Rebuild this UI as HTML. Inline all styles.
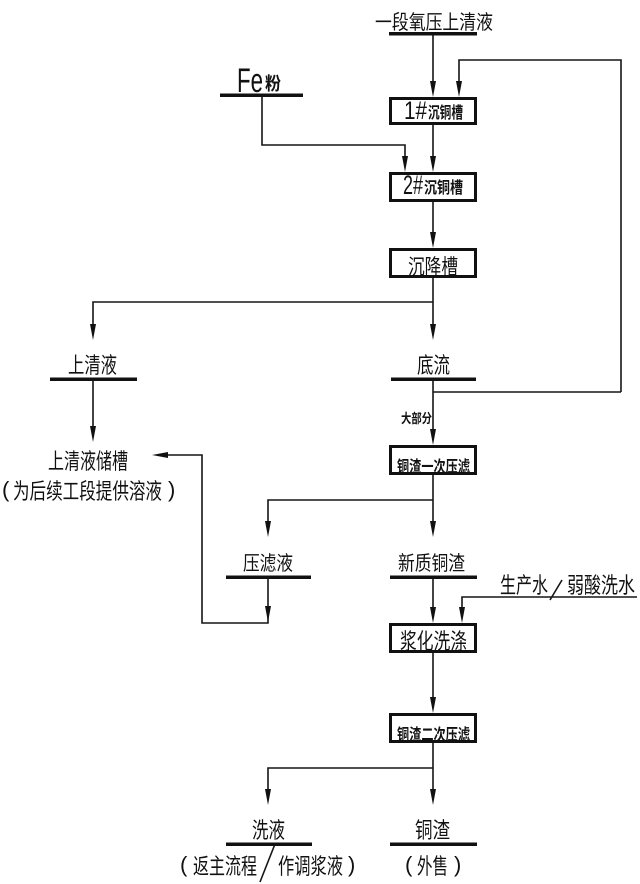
<!DOCTYPE html>
<html><head><meta charset="utf-8"><style>
html,body{margin:0;padding:0;background:#fff;}
svg{display:block;}
text{font-family:"Liberation Sans","Noto Sans CJK SC",sans-serif;fill:#111;}
.c{font-family:"Noto Sans CJK SC","WenQuanYi Zen Hei",sans-serif;}
.b{font-weight:bold;}
</style></head><body>
<svg width="640" height="884" viewBox="0 0 640 884" xmlns="http://www.w3.org/2000/svg">
<g fill="none" stroke="#151515" stroke-width="1.6">
<path d="M433 34V90"/>
<path d="M621 392V60H459V90"/>
<path d="M262 95V145H405V165"/>
<path d="M433 125V165"/>
<path d="M433 202V241"/>
<path d="M433 278V333"/>
<path d="M433 302H93V333"/>
<path d="M93 379V435"/>
<path d="M433 379V438"/>
<path d="M433 392H621"/>
<path d="M433 475V530"/>
<path d="M433 500H268V530"/>
<path d="M268 577V623H202V455H160"/>
<path d="M433 577V616"/>
<path d="M637 597H462V616"/>
<path d="M433 653V706"/>
<path d="M433 743V798"/>
<path d="M433 768H268V798"/>
<path d="M260 882L275 844"/>
<path d="M550 600L562 580"/>
</g>
<g fill="#111">
<polygon points="433,97 430,81 436,81"/>
<polygon points="459,97 456,81 462,81"/>
<polygon points="405,172 402,156 408,156"/>
<polygon points="433,172 430,156 436,156"/>
<polygon points="433,248 430,232 436,232"/>
<polygon points="433,340 430,324 436,324"/>
<polygon points="93,340 90,324 96,324"/>
<polygon points="93,442 90,426 96,426"/>
<polygon points="433,445 430,429 436,429"/>
<polygon points="433,537 430,521 436,521"/>
<polygon points="268,537 265,521 271,521"/>
<polygon points="268,622 265,606 271,606"/>
<polygon points="152,455 168,452 168,458"/>
<polygon points="433,623 430,607 436,607"/>
<polygon points="462,623 459,607 465,607"/>
<polygon points="433,713 430,697 436,697"/>
<polygon points="433,805 430,789 436,789"/>
<polygon points="268,805 265,789 271,789"/>
<rect x="389" y="32" width="88" height="3.5"/>
<rect x="220" y="93.5" width="83" height="3.5"/>
<rect x="50" y="377.5" width="87" height="3.5"/>
<rect x="391" y="377.5" width="85" height="3.5"/>
<rect x="226" y="575.5" width="85" height="3.5"/>
<rect x="390" y="575.5" width="87" height="3.5"/>
<rect x="226" y="842.5" width="86" height="3.5"/>
<rect x="390" y="842.5" width="87" height="3.5"/>
</g>
<g fill="#fff" stroke="#111" stroke-width="3">
<rect x="390.5" y="98.5" width="85" height="25"/>
<rect x="390.5" y="173.5" width="85" height="27"/>
<rect x="390.5" y="249.5" width="85" height="27"/>
<rect x="390.5" y="446.5" width="85" height="27"/>
<rect x="390.5" y="624.5" width="85" height="27"/>
<rect x="390.5" y="714.5" width="85" height="27"/>
</g>
<text class="c" x="375" y="29" font-size="20" textLength="118" lengthAdjust="spacingAndGlyphs">一段氧压上清液</text>
<text x="237" y="92" font-size="34" textLength="26" lengthAdjust="spacingAndGlyphs">Fe</text>
<text class="c b" x="265" y="90" font-size="18" textLength="16" lengthAdjust="spacingAndGlyphs">粉</text>
<text x="404" y="119" font-size="25" textLength="23" lengthAdjust="spacingAndGlyphs">1#</text>
<text class="c b" x="428" y="118" font-size="16" textLength="35" lengthAdjust="spacingAndGlyphs">沉铜槽</text>
<text x="403" y="194" font-size="27" textLength="20" lengthAdjust="spacingAndGlyphs">2#</text>
<text class="c b" x="424" y="193" font-size="16" textLength="39" lengthAdjust="spacingAndGlyphs">沉铜槽</text>
<text class="c" x="408" y="274" font-size="21" textLength="50" lengthAdjust="spacingAndGlyphs">沉降槽</text>
<text class="c" x="68" y="373" font-size="22" textLength="49" lengthAdjust="spacingAndGlyphs">上清液</text>
<text class="c" x="417" y="373" font-size="22" textLength="33" lengthAdjust="spacingAndGlyphs">底流</text>
<text class="c b" x="401" y="423" font-size="13" textLength="31" lengthAdjust="spacingAndGlyphs">大部分</text>
<text class="c" x="48" y="469" font-size="22" textLength="80" lengthAdjust="spacingAndGlyphs">上清液储槽</text>
<text x="2" y="497" font-size="22">(</text>
<text class="c" x="13" y="499" font-size="22" textLength="149" lengthAdjust="spacingAndGlyphs">为后续工段提供溶液</text>
<text x="168" y="497" font-size="22">)</text>
<text class="c b" x="397" y="472" font-size="16" textLength="73" lengthAdjust="spacingAndGlyphs">铜渣一次压滤</text>
<text class="c" x="243" y="570" font-size="20" textLength="50" lengthAdjust="spacingAndGlyphs">压滤液</text>
<text class="c" x="398" y="570" font-size="20" textLength="67" lengthAdjust="spacingAndGlyphs">新质铜渣</text>
<text class="c" x="500" y="593" font-size="22" textLength="48" lengthAdjust="spacingAndGlyphs">生产水</text>
<text class="c" x="567" y="593" font-size="22" textLength="68" lengthAdjust="spacingAndGlyphs">弱酸洗水</text>
<text class="c" x="400" y="649" font-size="22" textLength="67" lengthAdjust="spacingAndGlyphs">浆化洗涤</text>
<text class="c b" x="397" y="740" font-size="16" textLength="73" lengthAdjust="spacingAndGlyphs">铜渣二次压滤</text>
<text class="c" x="252" y="838" font-size="22" textLength="33" lengthAdjust="spacingAndGlyphs">洗液</text>
<text class="c" x="415" y="838" font-size="22" textLength="35" lengthAdjust="spacingAndGlyphs">铜渣</text>
<text x="180" y="872" font-size="22">(</text>
<text class="c" x="193" y="874" font-size="22" textLength="64" lengthAdjust="spacingAndGlyphs">返主流程</text>
<text class="c" x="278" y="874" font-size="22" textLength="65" lengthAdjust="spacingAndGlyphs">作调浆液</text>
<text x="348" y="872" font-size="22">)</text>
<text x="405" y="872" font-size="22">(</text>
<text class="c" x="417" y="874" font-size="22" textLength="31" lengthAdjust="spacingAndGlyphs">外售</text>
<text x="454" y="872" font-size="22">)</text>
</svg>
</body></html>
